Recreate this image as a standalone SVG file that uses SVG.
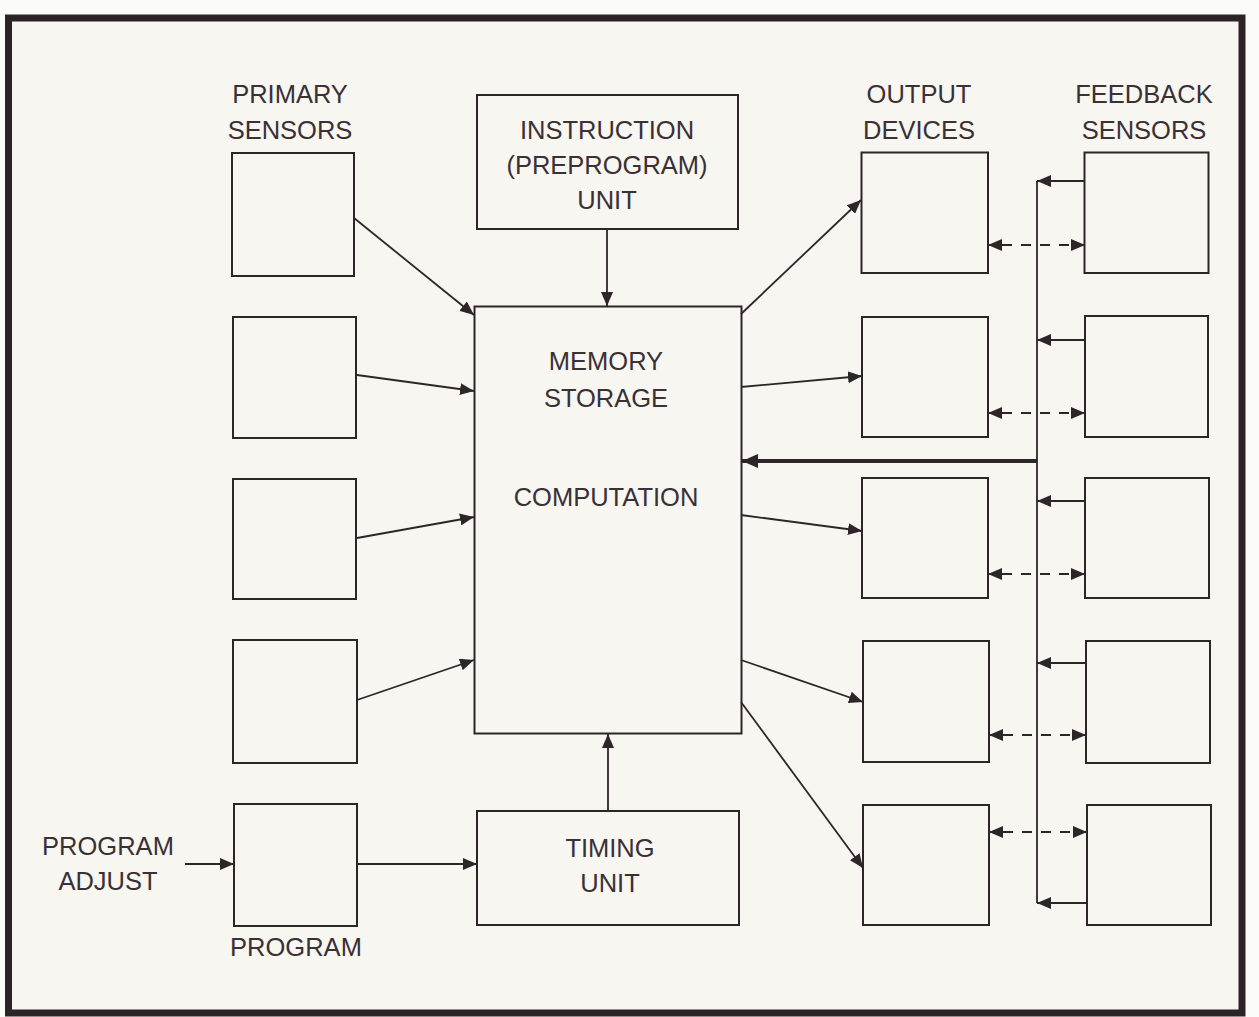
<svg xmlns="http://www.w3.org/2000/svg" width="1259" height="1017" viewBox="0 0 1259 1017">
<style>
.bg{fill:#f7f6f1}
.frame{fill:none;stroke:#2c2327;stroke-width:7}
.box{fill:none;stroke:#2e2529;stroke-width:2}
.lbl{font-family:"Liberation Sans",Arial,sans-serif;font-size:25.5px;fill:#3a3035;text-anchor:middle}
.ln{fill:none;stroke:#2e2529;stroke-width:1.8}
.thick{fill:none;stroke:#2e2529;stroke-width:4}
.dash{fill:none;stroke:#2e2529;stroke-width:2.2;stroke-dasharray:10 9}
</style>
<defs>
<marker id="ah" markerUnits="userSpaceOnUse" markerWidth="15" markerHeight="12" refX="14" refY="6" orient="auto">
<path d="M0,0 L14,6 L0,12 Z" fill="#2e2529"/>
</marker>
<marker id="ahb" markerUnits="userSpaceOnUse" markerWidth="17" markerHeight="14" refX="16" refY="7" orient="auto">
<path d="M0,0 L16,7 L0,14 Z" fill="#2e2529"/>
</marker>
</defs>
<rect x="0" y="0" width="1259" height="1017" fill="#fbfbf8"/>
<rect class="bg" x="8.5" y="18" width="1233.5" height="995"/>
<rect class="frame" x="8.5" y="18" width="1233.5" height="995"/>

<g id="labels">
<text class="lbl" x="290" y="103">PRIMARY</text>
<text class="lbl" x="290" y="139">SENSORS</text>
<text class="lbl" x="919" y="103">OUTPUT</text>
<text class="lbl" x="919" y="139">DEVICES</text>
<text class="lbl" x="1144" y="103">FEEDBACK</text>
<text class="lbl" x="1144" y="139">SENSORS</text>
<text class="lbl" x="108" y="855">PROGRAM</text>
<text class="lbl" x="108" y="890">ADJUST</text>
<text class="lbl" x="296" y="956">PROGRAM</text>
</g>

<g id="ps1"><rect class="box" x="232" y="153" width="122" height="123"/></g>
<g id="ps2"><rect class="box" x="233" y="317" width="123" height="121"/></g>
<g id="ps3"><rect class="box" x="233" y="479" width="123" height="120"/></g>
<g id="ps4"><rect class="box" x="233" y="640" width="124" height="123"/></g>
<g id="program"><rect class="box" x="234" y="804" width="123" height="122"/></g>

<g id="instruction">
<rect class="box" x="477" y="95" width="261" height="134"/>
<text class="lbl" x="607" y="139">INSTRUCTION</text>
<text class="lbl" x="607" y="174">(PREPROGRAM)</text>
<text class="lbl" x="607" y="209">UNIT</text>
</g>

<g id="memory">
<rect class="box" x="474.5" y="306.5" width="267" height="427"/>
<text class="lbl" x="606" y="370">MEMORY</text>
<text class="lbl" x="606" y="407">STORAGE</text>
<text class="lbl" x="606" y="506">COMPUTATION</text>
</g>

<g id="timing">
<rect class="box" x="477" y="811" width="262" height="114"/>
<text class="lbl" x="610" y="857">TIMING</text>
<text class="lbl" x="610" y="892">UNIT</text>
</g>

<g id="od1"><rect class="box" x="861.5" y="152.5" width="126.5" height="120.5"/></g>
<g id="od2"><rect class="box" x="862" y="317" width="126" height="120"/></g>
<g id="od3"><rect class="box" x="862" y="478" width="126" height="120"/></g>
<g id="od4"><rect class="box" x="863" y="641" width="126" height="121"/></g>
<g id="od5"><rect class="box" x="863" y="805" width="126" height="120"/></g>

<g id="fs1"><rect class="box" x="1084.5" y="152.5" width="124" height="120.5"/></g>
<g id="fs2"><rect class="box" x="1085" y="316" width="123" height="121"/></g>
<g id="fs3"><rect class="box" x="1085" y="478" width="124" height="120"/></g>
<g id="fs4"><rect class="box" x="1086" y="641" width="124" height="122"/></g>
<g id="fs5"><rect class="box" x="1087" y="805" width="124" height="120"/></g>

<g id="connectors">
<path class="ln" d="M354,218 L474,315" marker-end="url(#ah)"/>
<path class="ln" d="M357,375 L474,391" marker-end="url(#ah)"/>
<path class="ln" d="M357,538 L474,517" marker-end="url(#ah)"/>
<path class="ln" d="M357,700 L474,660" marker-end="url(#ah)"/>
<path class="ln" d="M185,864 L234,864" marker-end="url(#ah)"/>
<path class="ln" d="M357,864 L477,864" marker-end="url(#ah)"/>
<path class="ln" d="M607,229 L607,306" marker-end="url(#ah)"/>
<path class="ln" d="M608,811 L608,734" marker-end="url(#ah)"/>
<path class="ln" d="M741,314 L861,200" marker-end="url(#ah)"/>
<path class="ln" d="M741,387 L862,376" marker-end="url(#ah)"/>
<path class="ln" d="M741,515 L862,531" marker-end="url(#ah)"/>
<path class="ln" d="M741,660 L863,702" marker-end="url(#ah)"/>
<path class="ln" d="M741,702 L863,868" marker-end="url(#ah)"/>
<path class="ln" d="M1037,181 L1037,903"/>
<path class="ln" d="M1085,181 L1037,181" marker-end="url(#ah)"/>
<path class="ln" d="M1085,340 L1037,340" marker-end="url(#ah)"/>
<path class="ln" d="M1085,501 L1037,501" marker-end="url(#ah)"/>
<path class="ln" d="M1086,663 L1037,663" marker-end="url(#ah)"/>
<path class="ln" d="M1087,903 L1037,903" marker-end="url(#ah)"/>
<path class="thick" d="M1037,461 L742,461" marker-end="url(#ahb)"/>
<path class="dash" d="M1002,245 L1072,245"/>
<path class="dash" d="M1002,413 L1072,413"/>
<path class="dash" d="M1002,574 L1072,574"/>
<path class="dash" d="M1003,735 L1073,735"/>
<path class="dash" d="M1003,832 L1074,832"/>
<path class="ln" d="M1002,245 L988,245" marker-end="url(#ah)"/>
<path class="ln" d="M1071,245 L1085,245" marker-end="url(#ah)"/>
<path class="ln" d="M1002,413 L988,413" marker-end="url(#ah)"/>
<path class="ln" d="M1071,413 L1085,413" marker-end="url(#ah)"/>
<path class="ln" d="M1002,574 L988,574" marker-end="url(#ah)"/>
<path class="ln" d="M1071,574 L1085,574" marker-end="url(#ah)"/>
<path class="ln" d="M1003,735 L989,735" marker-end="url(#ah)"/>
<path class="ln" d="M1072,735 L1086,735" marker-end="url(#ah)"/>
<path class="ln" d="M1003,832 L989,832" marker-end="url(#ah)"/>
<path class="ln" d="M1073,832 L1087,832" marker-end="url(#ah)"/>
</g>
</svg>
